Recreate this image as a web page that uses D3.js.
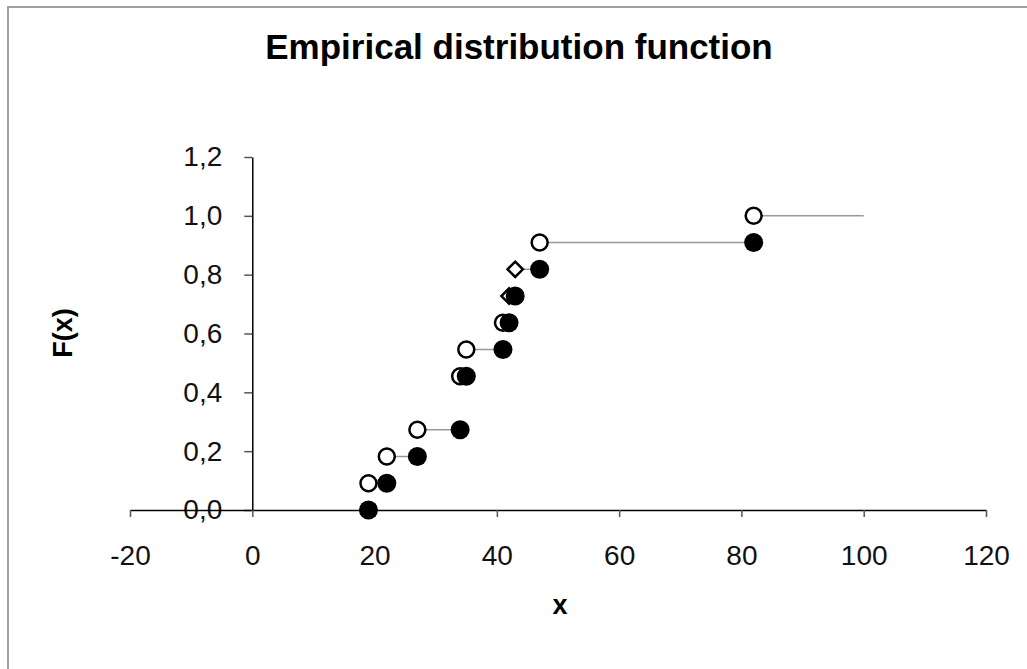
<!DOCTYPE html>
<html>
<head>
<meta charset="utf-8">
<script src="https://cdn.jsdelivr.net/npm/d3@7"></script>
<style>
  body { margin: 0; background: #fff; }
  svg { font-family: "Liberation Sans", Arial, sans-serif; }
</style>
</head>
<body>
<svg id="chart"></svg>
<script>
// step levels of the EDF (k/11) and where each step starts (open) / ends (filled)
const levels = [0, 1/11, 2/11, 3/11, 5/11, 6/11, 7/11, 8/11, 9/11, 10/11, 1];
const stepStart = [null, 19, 22, 27, 34, 35, 41, 42, 43, 47, 82];
const stepEnd = [19, 22, 27, 34, 35, 41, 42, 43, 47, 82, 100];
const openShape = ["", "circle", "circle", "circle", "circle", "circle", "circle", "diamond", "diamond", "circle", "circle"];
const endMarker = [true, true, true, true, true, true, true, true, true, true, false];

const xTicks = [-20, 0, 20, 40, 60, 80, 100, 120];
const yTicks = [0, 0.2, 0.4, 0.6, 0.8, 1.0, 1.2];

const W = 1027, H = 669;
const svg = d3.select("#chart").attr("width", W).attr("height", H);

svg.append("rect")
  .attr("x", 8).attr("y", 7)
  .attr("width", 1040).attr("height", 680)
  .attr("fill", "#fff")
  .attr("stroke", "#a0a0a0")
  .attr("stroke-width", 2);

const x = d3.scaleLinear().domain([-20, 120]).range([130, 986]);
const y = d3.scaleLinear().domain([0, 1.2]).range([510, 157]);

const steps = levels.map((f, i) => ({
  f, x0: stepStart[i], x1: stepEnd[i], shape: openShape[i], end: endMarker[i]
}));

// y axis at x = 0
const yAxis = svg.append("g")
  .attr("transform", `translate(${x(0)},0)`)
  .call(d3.axisLeft(y).tickValues(yTicks).tickSize(8).tickSizeOuter(0)
    .tickFormat(d => d3.format(".1f")(d).replace(".", ",")));
yAxis.select(".domain").attr("stroke", "#000").attr("stroke-width", 1.5);
yAxis.selectAll(".tick line").attr("stroke", "#555").attr("stroke-width", 1.5);
yAxis.selectAll("text").attr("font-size", 28).attr("fill", "#111").attr("x", -30);

// x axis at y = 0
const xAxis = svg.append("g")
  .attr("transform", `translate(0,${y(0)})`)
  .call(d3.axisBottom(x).tickValues(xTicks).tickSize(7).tickSizeOuter(0)
    .tickFormat(d => String(d)));
xAxis.select(".domain").attr("stroke", "#000").attr("stroke-width", 1.5);
xAxis.selectAll(".tick line").attr("stroke", "#555").attr("stroke-width", 1.5);
xAxis.selectAll("text").attr("font-size", 28).attr("fill", "#111").attr("y", 35);

// horizontal step segments
svg.append("g").selectAll("line")
  .data(steps.filter(d => d.x0 !== null))
  .join("line")
  .attr("x1", d => x(d.x0)).attr("x2", d => x(d.x1))
  .attr("y1", d => y(d.f)).attr("y2", d => y(d.f))
  .attr("stroke", "#999").attr("stroke-width", 1.5);

// open markers at the left end of each step
const open = steps.filter(d => d.x0 !== null);
svg.append("g").selectAll("path")
  .data(open)
  .join("path")
  .attr("transform", d => `translate(${x(d.x0)},${y(d.f)})`)
  .attr("d", d => d.shape === "diamond"
    ? d3.symbol(d3.symbolDiamond2, 150)()
    : d3.symbol(d3.symbolCircle, 200)())
  .attr("fill", "#fff")
  .attr("stroke", "#000")
  .attr("stroke-width", 2.5);

// filled markers at the right end
svg.append("g").selectAll("circle")
  .data(steps.filter(d => d.end))
  .join("circle")
  .attr("cx", d => x(d.x1)).attr("cy", d => y(d.f))
  .attr("r", 9.5)
  .attr("fill", "#000");

svg.append("text")
  .attr("x", 519).attr("y", 59)
  .attr("text-anchor", "middle")
  .attr("font-size", 35).attr("font-weight", "bold")
  .text("Empirical distribution function");

svg.append("text")
  .attr("x", 560).attr("y", 614)
  .attr("text-anchor", "middle")
  .attr("font-size", 27).attr("font-weight", "bold")
  .text("x");

svg.append("text")
  .attr("transform", `translate(72,333) rotate(-90)`)
  .attr("text-anchor", "middle")
  .attr("font-size", 27).attr("font-weight", "bold")
  .text("F(x)");
</script>
</body>
</html>
